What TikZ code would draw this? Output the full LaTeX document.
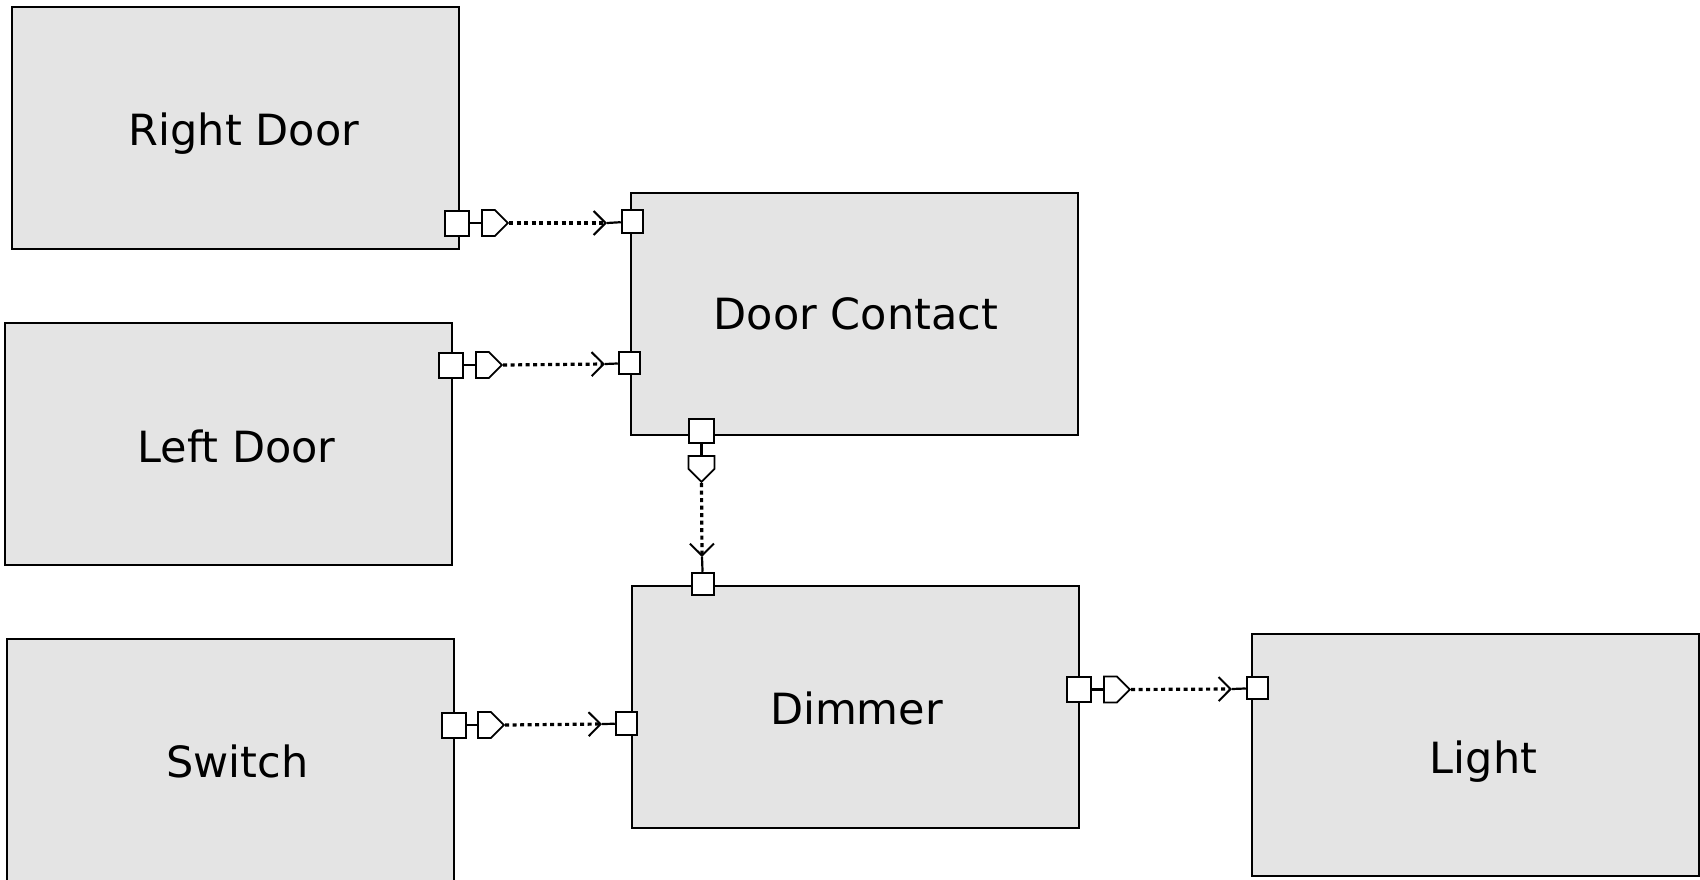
\documentclass[tikz,border=0pt]{standalone}
\usepackage{fontspec}
\setmainfont{DejaVu Sans}
\usetikzlibrary{arrows.meta,shapes.symbols}
\definecolor{boxgray}{RGB}{228,228,228}
\tikzset{
  block/.style={draw=black, line width=2pt, fill=boxgray, minimum width=447pt, minimum height=242pt, inner sep=0pt},
  lbl/.style={inner sep=0pt, anchor=base, font=\fontsize{43pt}{51pt}\selectfont},
  outport/.style={draw=black, line width=2pt, fill=white, minimum width=24pt, minimum height=25pt, inner sep=0pt},
  inport/.style={draw=black, line width=2pt, fill=white, minimum width=21.5pt, minimum height=22.5pt, inner sep=0pt},
  pent/.style={draw=black, line width=1.8pt, fill=white, shape=signal, signal to=east, signal pointer angle=90, inner sep=0pt, minimum width=26pt, minimum height=26pt, anchor=west},
  solidlink/.style={draw=black, line width=2.2pt},
  dotlink/.style={draw=black, line width=3.2pt, dash pattern=on 4pt off 3.5pt,
    -{Straight Barb[length=12pt,width=24pt,line width=2pt]}}
}
\begin{document}
\begin{tikzpicture}[x=1pt,y=-1pt]
\useasboundingbox (0,0) rectangle (1700,879);
% boxes
\node[block] (rd) at (235.5,127.5) {};
\node[block] (ld) at (228,444) {};
\node[block] (sw) at (230.5,760) {};
\node[block] (dc) at (854.5,314) {};
\node[block] (dm) at (855,707) {};
\node[block] (li) at (1475,755) {};
% labels
\node[lbl] (rdt) at (244,145) {Right Door};
\node[lbl] (ldt) at (236.5,462) {Left Door};
\node[lbl] (swt) at (237.5,777) {Switch};
\node[lbl] (dct) at (856,329) {Door Contact};
\node[lbl] (dmt) at (856.5,724) {Dimmer};
\node[lbl] (lit) at (1483.5,773) {Light};
% Right Door -> Door Contact
\node[outport] (rdo) at (457,223) {};
\node[pent] (rdp) at (481,223) {};
\coordinate (rdtip) at (607,223);
\node[inport] (dci1) at (632.5,221.5) {};
\draw[solidlink] (rdo) -- (rdp);
\draw[dotlink] (rdp.east) -- (rdtip);
\draw[solidlink] (rdtip) -- (dci1);
% Left Door -> Door Contact
\node[outport] (ldo) at (450.5,365) {};
\node[pent] (ldp) at (475,365) {};
\coordinate (ldtip) at (605,364);
\node[inport] (dci2) at (629.5,363) {};
\draw[solidlink] (ldo) -- (ldp);
\draw[dotlink] (ldp.east) -- (ldtip);
\draw[solidlink] (ldtip) -- (dci2);
% Switch -> Dimmer
\node[outport] (swo) at (453.5,725) {};
\node[pent] (swp) at (477,725) {};
\coordinate (swtip) at (602,724);
\node[inport] (dmi1) at (626.5,723.5) {};
\draw[solidlink] (swo) -- (swp);
\draw[dotlink] (swp.east) -- (swtip);
\draw[solidlink] (swtip) -- (dmi1);
% Dimmer -> Light
\node[outport] (dmo) at (1078.5,689.5) {};
\node[pent] (dmp) at (1103,689.5) {};
\coordinate (dmtip) at (1232,689);
\node[inport] (lii) at (1257.5,688) {};
\draw[solidlink] (dmo) -- (dmp);
\draw[dotlink] (dmp.east) -- (dmtip);
\draw[solidlink] (dmtip) -- (lii);
% Door Contact -> Dimmer
\node[outport, minimum width=25pt, minimum height=24pt] (dco) at (701.5,431) {};
\node[pent, rotate=-90] (dcp) at (701.5,455) {};
\coordinate (dctip) at (702,557);
\node[inport] (dmi2) at (703,584) {};
\draw[solidlink] (dco) -- (dcp);
\draw[dotlink] (dcp.east) -- (dctip);
\draw[solidlink] (dctip) -- (dmi2);
\end{tikzpicture}
\end{document}
